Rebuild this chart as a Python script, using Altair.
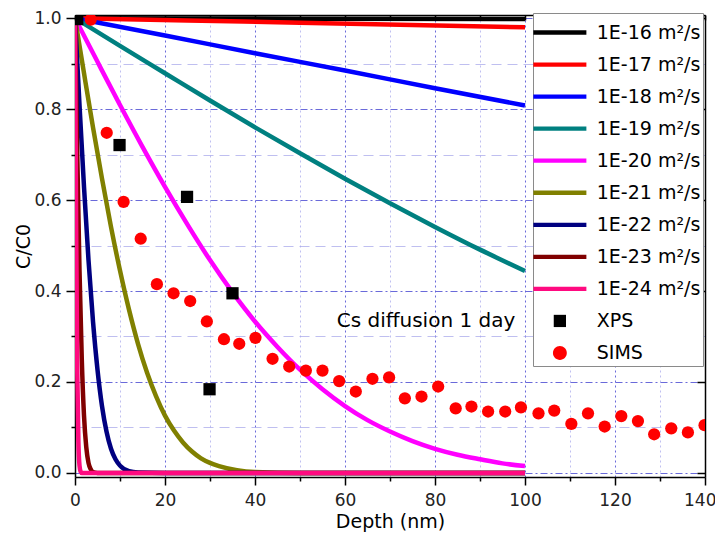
import altair as alt
import pandas as pd

FONT = "DejaVu Sans"

# ---- series labels and colours ----
series_names = ["1E-16 m²/s", "1E-17 m²/s", "1E-18 m²/s", "1E-19 m²/s", "1E-20 m²/s",
                "1E-21 m²/s", "1E-22 m²/s", "1E-23 m²/s", "1E-24 m²/s"]
line_colors = ["#000000", "#ff0000", "#0000ff", "#008080", "#ff00ff",
               "#808000", "#000080", "#800000", "#ff0a80"]

# ---- profile curves ----
depth_16 = [0, 50, 100]
conc_16 = [1.0, 0.999, 0.998]
depth_17 = [0, 25, 50, 75, 100]
conc_17 = [1.0, 0.995, 0.990, 0.985, 0.980]
depth_18 = [0, 20, 40, 60, 80, 100]
conc_18 = [1.0, 0.962, 0.923, 0.885, 0.846, 0.808]
depth_19 = [0, 10, 20, 30, 40, 50, 60, 70, 80, 90, 100]
conc_19 = [1.0, 0.939, 0.879, 0.819, 0.760, 0.703, 0.647, 0.593, 0.541, 0.491, 0.444]
depth_20 = [0, 5, 10, 15, 20, 25, 30, 35, 40, 45, 50, 55, 60, 65, 70, 75, 80, 85, 90, 95, 100]
conc_20 = [1.0, 0.904, 0.809, 0.717, 0.629, 0.546, 0.468, 0.397, 0.333, 0.277, 0.227,
           0.184, 0.147, 0.116, 0.091, 0.070, 0.053, 0.040, 0.030, 0.021, 0.015]
depth_21 = [0, 2, 4, 6, 8, 10, 12, 14, 16, 18, 20, 22, 24, 26, 28, 30, 32, 36, 40, 50, 60, 70, 80, 90, 100]
conc_21 = [1.0, 0.879, 0.760, 0.647, 0.541, 0.445, 0.359, 0.284, 0.221, 0.169, 0.126,
           0.093, 0.067, 0.047, 0.032, 0.022, 0.015, 0.006, 0.002, 0.0, 0.0, 0.0, 0.0, 0.0, 0.0]
depth_22 = [0, 1, 2, 3, 4, 5, 6, 7, 8, 9, 10, 12, 14, 20, 40, 60, 80, 100]
conc_22 = [1.0, 0.809, 0.629, 0.468, 0.333, 0.227, 0.147, 0.091, 0.053, 0.030, 0.016,
           0.004, 0.001, 0.0, 0.0, 0.0, 0.0, 0.0]
depth_23 = [0, 0.5, 1, 1.5, 2, 2.5, 3, 3.5, 4, 5, 100]
conc_23 = [1.0, 0.703, 0.445, 0.252, 0.126, 0.057, 0.022, 0.008, 0.002, 0.0, 0.0]
depth_24 = [0, 0.25, 0.5, 0.75, 1, 1.25, 1.5, 2, 100]
conc_24 = [1.0, 0.546, 0.227, 0.070, 0.016, 0.003, 0.0, 0.0, 0.0]

# ---- measured points ----
xps_depth = [0.5, 9.9, 24.9, 35.0, 29.9]
xps_conc = [0.998, 0.721, 0.607, 0.395, 0.184]
sims_depth = [3.5, 7.05, 10.8, 14.6, 18.2, 21.9, 25.6, 29.3, 33.1, 36.5,
              40.1, 43.9, 47.6, 51.3, 55.0, 58.7, 62.4, 66.1, 69.8, 73.3,
              77.0, 80.7, 84.6, 88.1, 91.8, 95.6, 99.1,
              103.0, 106.5, 110.3, 114.0, 117.7, 121.4, 125.1, 128.7, 132.5, 136.2, 139.9]
sims_conc = [0.997, 0.748, 0.596, 0.515, 0.415, 0.395, 0.378, 0.333, 0.294, 0.284,
             0.297, 0.251, 0.234, 0.225, 0.225, 0.202, 0.179, 0.207, 0.210, 0.164,
             0.168, 0.190, 0.142, 0.146, 0.135, 0.135, 0.144,
             0.131, 0.137, 0.108, 0.131, 0.102, 0.125, 0.114, 0.085, 0.098, 0.089, 0.105]

annot_text = ["Cs diffusion 1 day"]
annot_x = [78]
annot_y = [0.334]

x_major = [0, 20, 40, 60, 80, 100, 120, 140]
x_minor = [10, 30, 50, 70, 90, 110, 130]
x_top = [0, 10, 20, 30, 40, 50, 60, 70, 80, 90, 100, 110, 120, 130, 140]
y_major = [0.0, 0.2, 0.4, 0.6, 0.8, 1.0]
y_minor = [0.1, 0.3, 0.5, 0.7, 0.9]

# ---- build tables ----
curves = [(depth_16, conc_16), (depth_17, conc_17), (depth_18, conc_18), (depth_19, conc_19),
          (depth_20, conc_20), (depth_21, conc_21), (depth_22, conc_22), (depth_23, conc_23),
          (depth_24, conc_24)]
rows = []
for name, (ds, cs) in zip(series_names, curves):
    for d, c in zip(ds, cs):
        rows.append({"series": name, "depth": d, "conc": c})
lines_df = pd.DataFrame(rows)
xps_df = pd.DataFrame({"depth": xps_depth, "conc": xps_conc})
sims_df = pd.DataFrame({"depth": sims_depth, "conc": sims_conc})
annot_df = pd.DataFrame({"label": annot_text, "depth": annot_x, "conc": annot_y})
legend_df = pd.DataFrame({"series": series_names + ["XPS", "SIMS"]})

legend_domain = series_names + ["XPS", "SIMS"]
color_scale = alt.Scale(domain=legend_domain, range=line_colors + ["#000000", "#ff0000"])
bar_path = "M-1.82,-0.35H6.84V0.35H-1.82Z"
square_path = "M1.51,-1H3.51V1H1.51Z"
circle_path = "M1.38,0A1.13,1.13,0,1,1,3.64,0A1.13,1.13,0,1,1,1.38,0Z"
shape_scale = alt.Scale(domain=legend_domain, range=[bar_path] * 9 + [square_path, circle_path])

xs = alt.Scale(domain=[0, 140], nice=False, zero=False)
ys = alt.Scale(domain=[-0.009, 1.007], nice=False, zero=False)

GRID = "#5a5ad6"
MINOR = "#a4a4ea"

ax_x_major = alt.Axis(values=x_major, format="d", title="Depth (nm)", orient="bottom",
                      titleFont=FONT, titleFontSize=19, titleFontWeight="normal", titleColor="black",
                      titlePadding=4, labelFont=FONT, labelFontSize=17, labelColor="#222222",
                      labelPadding=7, labelFlush=False,
                      labelAlign={"condition": {"test": "datum.value === 140", "value": "right"},
                                  "value": "center"},
                      labelOffset={"condition": {"test": "datum.value === 140", "value": 11},
                                   "value": 0},
                      tickSize=8, tickWidth=1.5, tickColor="black",
                      domainColor="black", domainWidth=1.5, grid=True, gridColor=GRID,
                      gridDash=[2, 3], gridWidth=1, gridOpacity=0.9)
ax_y_major = alt.Axis(values=y_major, format=".1f", title="C/C0", orient="left",
                      titleFont=FONT, titleFontSize=19, titleFontWeight="normal", titleColor="black",
                      titlePadding=0, labelFont=FONT, labelFontSize=17, labelColor="#222222",
                      labelPadding=5, labelFlush=False, tickSize=9, tickWidth=1.5, tickColor="black",
                      domainColor="black", domainWidth=1.5, grid=True, gridColor=GRID,
                      gridDash=[7, 3, 2, 3], gridWidth=1, gridOpacity=0.9)
ax_x_minor = alt.Axis(values=x_minor, labels=False, title=None, orient="bottom", domain=False,
                      tickSize=4, tickWidth=1.5, tickColor="black", grid=True, gridColor=MINOR,
                      gridDash=[2, 3], gridWidth=1, gridOpacity=0.7)
ax_y_minor = alt.Axis(values=y_minor, labels=False, title=None, orient="left", domain=False,
                      tickSize=4, tickWidth=1.5, tickColor="black", grid=True, gridColor=MINOR,
                      gridDash=[10, 6], gridWidth=1, gridOpacity=0.7)
ax_x_top = alt.Axis(values=x_top, labels=False, title=None, orient="bottom", offset=-462,
                    tickSize=5, tickWidth=1.5, tickColor="black", domain=True,
                    domainColor="black", domainWidth=1.5, grid=False)
ax_y_right = alt.Axis(values=y_major, labels=False, title=None, orient="left", offset=-630,
                      tickSize=8, tickWidth=1.5, tickColor="black", domain=True,
                      domainColor="black", domainWidth=1.5, grid=False)

leg_kw = dict(title=" ", titleFontSize=8, titlePadding=0, orient="none", legendX=458, legendY=-2,
              symbolSize=150, labelFont=FONT, labelFontSize=19, labelColor="black",
              labelOffset=42.75, rowPadding=12.05, padding=2, columnPadding=0, fillColor="white",
              strokeColor="#8a8a8a", symbolStrokeWidth=0, symbolOpacity=1, zindex=5,
              labelLimit=220)

# legend-only layer (invisible marks)
legend_layer = alt.Chart(legend_df).mark_point(filled=True, opacity=0, size=1).encode(
    color=alt.Color("series:N", scale=color_scale, legend=alt.Legend(**leg_kw)),
    shape=alt.Shape("series:N", scale=shape_scale, legend=alt.Legend(**leg_kw)),
)

lines = alt.Chart(lines_df).mark_line(strokeWidth=4.5, clip=True, interpolate="monotone").encode(
    x=alt.X("depth:Q", scale=xs, axis=ax_x_major),
    y=alt.Y("conc:Q", scale=ys, axis=ax_y_major),
    color=alt.Color("series:N", scale=color_scale, legend=None),
    detail="series:N",
)

xps = alt.Chart(xps_df).mark_square(size=150, color="#000000", opacity=1, clip=True).encode(
    x=alt.X("depth:Q", scale=xs, axis=ax_x_minor),
    y=alt.Y("conc:Q", scale=ys, axis=ax_y_minor),
)

sims = alt.Chart(sims_df).mark_circle(size=150, color="#ff0000", opacity=1, clip=True).encode(
    x=alt.X("depth:Q", scale=xs, axis=ax_x_top),
    y=alt.Y("conc:Q", scale=ys, axis=ax_y_right),
)

annot = alt.Chart(annot_df).mark_text(font=FONT, fontSize=20, color="black",
                                      align="center", baseline="middle").encode(
    x=alt.X("depth:Q", scale=xs, axis=None),
    y=alt.Y("conc:Q", scale=ys, axis=None),
    text="label:N",
)

chart = alt.layer(legend_layer, lines, xps, sims, annot).resolve_axis(
    x="independent", y="independent"
).resolve_legend(
    color="independent", shape="independent"
).properties(
    width=630, height=462,
    padding={"left": 67, "top": 7, "right": 10, "bottom": 56},
    autosize=alt.AutoSizeParams(type="none"),
    background="white",
).configure_view(stroke=None)

chart.save("out.html", embed_options={"renderer": "svg", "actions": False})
